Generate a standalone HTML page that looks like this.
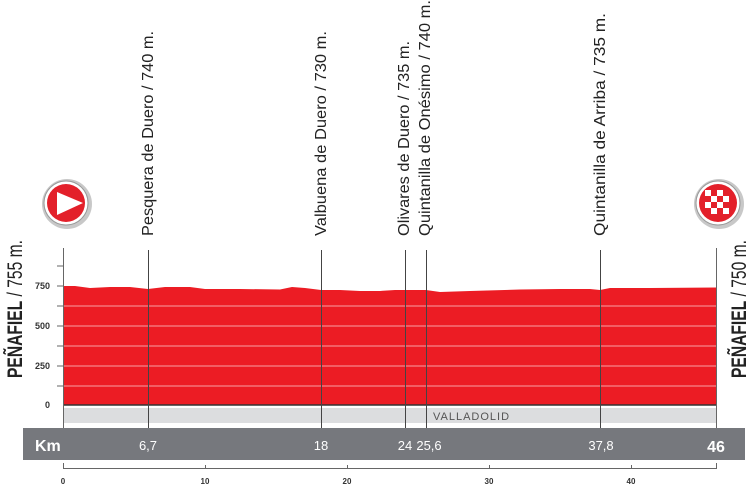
<!DOCTYPE html>
<html><head><meta charset="utf-8"><style>
html,body{margin:0;padding:0;background:#fff;}
svg{display:block;font-family:"Liberation Sans",sans-serif;}
</style></head><body>
<svg width="750" height="488" viewBox="0 0 750 488" xmlns="http://www.w3.org/2000/svg">
<!-- profile -->
<path d="M64,405 L64,286 L75,286 L90,288 L110,287 L130,287 L148,289 L165,287 L190,287 L205,289 L240,289 L280,289.5 L292,287 L305,288 L321,290 L340,290 L360,291 L380,291 L395,290 L405,290 L426,290 L440,292 L470,291 L520,289.5 L560,289 L590,289 L600,290 L610,288 L650,288 L716,287.5 L716,405 Z" fill="#ec1c24"/>
<g stroke="#f7a0a3" stroke-width="1">
<line x1="64" y1="306" x2="716" y2="306"/><line x1="64" y1="326" x2="716" y2="326"/>
<line x1="64" y1="346" x2="716" y2="346"/><line x1="64" y1="366" x2="716" y2="366"/>
<line x1="64" y1="386" x2="716" y2="386"/>
</g>
<line x1="63" y1="405" x2="716" y2="405" stroke="#333" stroke-width="1.5"/>
<rect x="64" y="408" width="652" height="15" fill="#dcdddf"/>
<text x="433" y="420" font-size="11" fill="#555" letter-spacing="1">VALLADOLID</text>
<!-- axes -->
<g stroke="#666" stroke-width="1">
<line x1="63.5" y1="248" x2="63.5" y2="428"/><line x1="716.5" y1="248" x2="716.5" y2="428"/>
<line x1="57" y1="266" x2="63" y2="266"/><line x1="57" y1="286" x2="63" y2="286"/>
<line x1="57" y1="306" x2="63" y2="306"/><line x1="57" y1="326" x2="63" y2="326"/>
<line x1="57" y1="346" x2="63" y2="346"/><line x1="57" y1="366" x2="63" y2="366"/>
<line x1="57" y1="386" x2="63" y2="386"/>
</g>
<g font-size="9" fill="#333" text-anchor="end" font-weight="bold">
<text x="50" y="289">750</text><text x="50" y="329">500</text><text x="50" y="369">250</text><text x="50" y="408">0</text>
</g>
<!-- km bar -->
<rect x="23" y="428" width="722" height="32" fill="#76787d"/>
<text x="35" y="451" font-size="16" font-weight="bold" fill="#fff">Km</text>
<g font-size="13" fill="#fff" text-anchor="middle">
<text x="148" y="450">6,7</text><text x="321" y="450">18</text><text x="405" y="450">24</text>
<text x="429" y="450">25,6</text><text x="601" y="450">37,8</text>
</g>
<text x="716" y="452" font-size="16" font-weight="bold" fill="#fff" text-anchor="middle">46</text>
<!-- vertical markers -->
<g stroke="#444" stroke-width="1">
<line x1="148.5" y1="250" x2="148.5" y2="428"/><line x1="321.5" y1="250" x2="321.5" y2="428"/>
<line x1="405.5" y1="250" x2="405.5" y2="428"/><line x1="426.5" y1="250" x2="426.5" y2="428"/>
<line x1="600.5" y1="250" x2="600.5" y2="428"/>
</g>
<!-- bottom axis -->
<g stroke="#666" stroke-width="1">
<line x1="63" y1="468.5" x2="716" y2="468.5"/>
<line x1="63.5" y1="463" x2="63.5" y2="469"/><line x1="205.5" y1="465" x2="205.5" y2="469"/>
<line x1="347.5" y1="465" x2="347.5" y2="469"/><line x1="489.5" y1="465" x2="489.5" y2="469"/>
<line x1="631.5" y1="465" x2="631.5" y2="469"/><line x1="716.5" y1="463" x2="716.5" y2="469"/>
</g>
<g font-size="8" fill="#333" text-anchor="middle" font-weight="bold">
<text x="63" y="484">0</text><text x="205" y="484">10</text><text x="347" y="484">20</text>
<text x="489" y="484">30</text><text x="631" y="484">40</text>
</g>
<!-- rotated labels -->
<g font-size="16" fill="#222">
<text transform="translate(153,236) rotate(-90)" textLength="205" lengthAdjust="spacingAndGlyphs">Pesquera de Duero / 740 m.</text>
<text transform="translate(326,236) rotate(-90)" textLength="205" lengthAdjust="spacingAndGlyphs">Valbuena de Duero / 730 m.</text>
<text transform="translate(409,236) rotate(-90)" textLength="195" lengthAdjust="spacingAndGlyphs">Olivares de Duero / 735 m.</text>
<text transform="translate(430,236) rotate(-90)" textLength="236" lengthAdjust="spacingAndGlyphs">Quintanilla de Onésimo / 740 m.</text>
<text transform="translate(605,236) rotate(-90)" textLength="223" lengthAdjust="spacingAndGlyphs">Quintanilla de Arriba / 735 m.</text>
</g>
<g fill="#222" font-size="21">
<text transform="translate(22,378) rotate(-90)" textLength="138" lengthAdjust="spacingAndGlyphs"><tspan font-weight="bold">PEÑAFIEL</tspan> / 755 m.</text>
<text transform="translate(746,378) rotate(-90)" textLength="138" lengthAdjust="spacingAndGlyphs"><tspan font-weight="bold">PEÑAFIEL</tspan> / 750 m.</text>
</g>
<!-- start icon -->
<circle cx="67" cy="204" r="25" fill="#c8c8c8"/>
<circle cx="66" cy="203" r="22" fill="#fff" stroke="#999" stroke-width="1"/>
<circle cx="66" cy="203" r="19" fill="#e3202a"/>
<path d="M57,192 L83,203 L57,215 Z" fill="#fff"/>
<!-- finish icon -->
<circle cx="719" cy="204" r="25" fill="#c8c8c8"/>
<circle cx="718" cy="203" r="22" fill="#fff" stroke="#999" stroke-width="1"/>
<circle cx="718" cy="203" r="19" fill="#e3202a"/>
<g fill="#fff">
<rect x="705" y="190" width="6" height="6"/><rect x="717" y="190" width="6" height="6"/>
<rect x="711" y="196" width="6" height="6"/><rect x="723" y="196" width="6" height="6"/>
<rect x="705" y="202" width="6" height="6"/><rect x="717" y="202" width="6" height="6"/>
<rect x="711" y="208" width="6" height="6"/><rect x="723" y="208" width="6" height="6"/>
</g>
</svg>
</body></html>
